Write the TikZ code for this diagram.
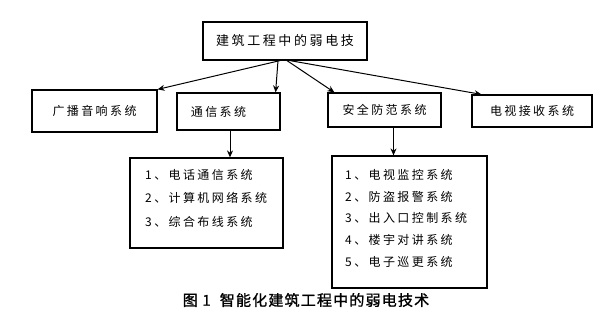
\documentclass[tikz,border=0pt]{standalone}
\usepackage{fontspec}
\newfontfamily\cjk[LetterSpace=20]{Noto Sans CJK SC}
\newfontfamily\cjkb[FakeBold=1.2,LetterSpace=8]{Noto Sans CJK SC}
\usetikzlibrary{arrows.meta}
\begin{document}
\begin{tikzpicture}[x=1pt,y=-1pt,
  box/.style={draw, line width=1.2pt, inner sep=0pt, font=\cjk\fontsize{12}{14}\selectfont},
  listtext/.style={inner sep=0pt, anchor=north west, align=left},
  arr/.style={-{Stealth[length=7pt,width=6pt]}, line width=1pt}]
\useasboundingbox (0,0) rectangle (611,319);
\node[box, minimum width=164pt, minimum height=38pt, font=\cjk\fontsize{13}{16}\selectfont] (top) at (285,41) {建筑工程中的弱电技};
\node[box, minimum width=125pt, minimum height=42pt] (b1) at (94.5,111) {广播音响系统};
\node[box, minimum width=103pt, minimum height=37pt] (b2) at (228.5,111.5) {通信系统\hspace*{20pt}};
\node[box, minimum width=113pt, minimum height=34pt] (b3) at (384.5,110) {安全防范系统};
\node[box, minimum width=120pt, minimum height=32pt] (b4) at (532,111) {电视接收系统};
\node[box, minimum width=153pt, minimum height=90pt] (l1) at (206.5,203) {};
\node[box, minimum width=155pt, minimum height=132pt] (l2) at (409.5,222) {};
\node[listtext, font=\cjk\fontsize{12}{23.5}\selectfont] (t1) at (145,169) {1、电话通信系统\\2、计算机网络系统\\3、综合布线系统};
\node[listtext, font=\cjk\fontsize{12}{21.7}\selectfont] (t2) at (345,169) {1、电视监控系统\\2、防盗报警系统\\3、出入口控制系统\\4、楼宇对讲系统\\5、电子巡更系统};
\draw[arr] ([xshift=-5pt]top.south) -- (b1.north east);
\draw[arr] ([xshift=-7pt]top.south) -- ([xshift=-5pt]b2.north east);
\draw[arr] ([xshift=2pt]top.south) -- ([xshift=7pt]b3.north west);
\draw[arr] ([xshift=5pt]top.south) -- ([xshift=10pt]b4.north west);
\draw[arr] ([xshift=1.5pt]b2.south) -- ([xshift=1.5pt]b2.south |- l1.north);
\draw[arr] ([xshift=9pt]b3.south) -- ([xshift=9pt]b3.south |- l2.north);
\node[font=\cjkb\fontsize{15}{17}\selectfont, inner sep=0pt] (cap) at (306,300) {图 1\ \ 智能化建筑工程中的弱电技术};
\end{tikzpicture}
\end{document}
